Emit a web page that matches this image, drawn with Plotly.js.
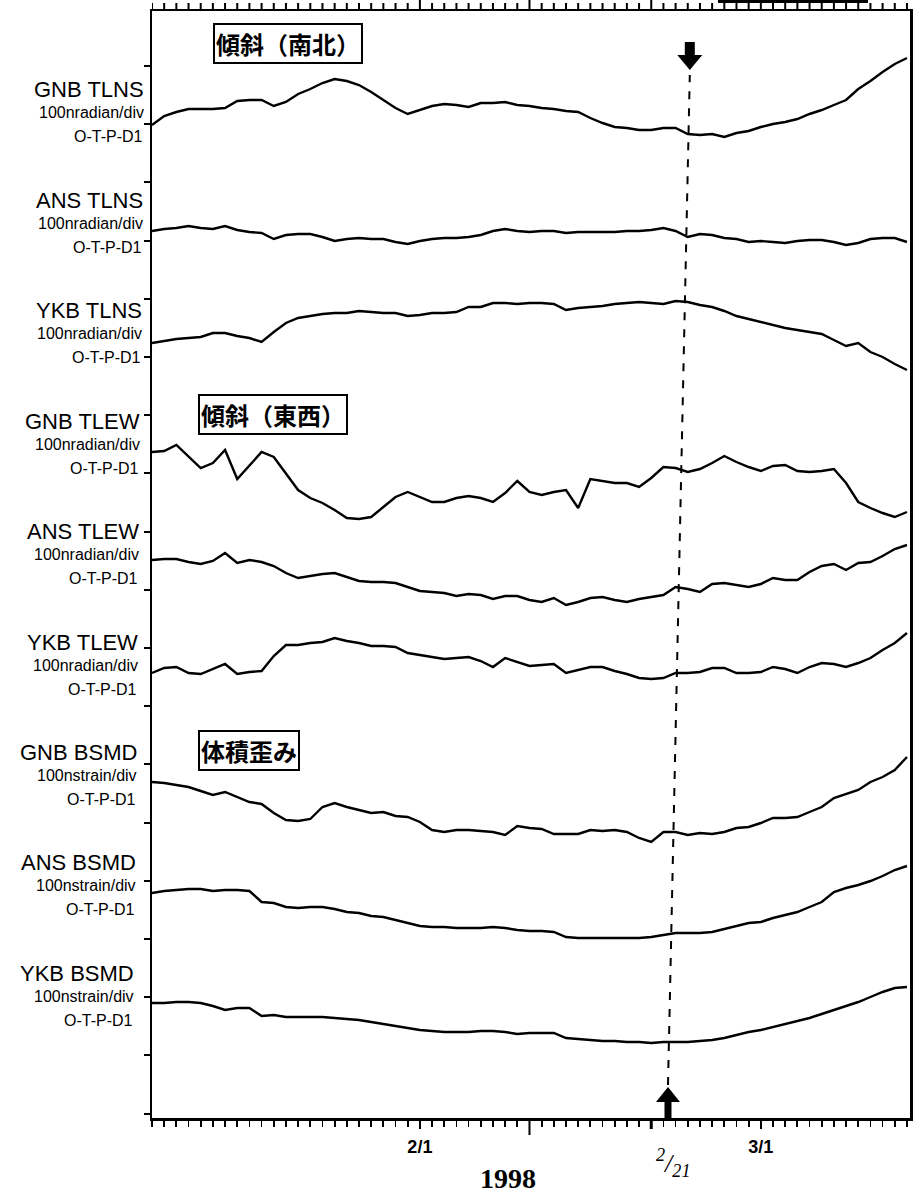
<!DOCTYPE html>
<html>
<head>
<meta charset="utf-8">
<script src="https://cdn.plot.ly/plotly-3.0.1.min.js"></script>
<style>html,body{margin:0;padding:0;background:#fff;}#chart{width:913px;height:1197px;}</style>
</head>
<body>
<div id="chart"></div>
<script>
// ---- data (deviation from each trace's starting level, display units) ----
const dates = [
 '1998-01-10','1998-01-11','1998-01-12','1998-01-13','1998-01-14','1998-01-15','1998-01-16','1998-01-17','1998-01-18','1998-01-19',
 '1998-01-20','1998-01-21','1998-01-22','1998-01-23','1998-01-24','1998-01-25','1998-01-26','1998-01-27','1998-01-28','1998-01-29',
 '1998-01-30','1998-01-31','1998-02-01','1998-02-02','1998-02-03','1998-02-04','1998-02-05','1998-02-06','1998-02-07','1998-02-08',
 '1998-02-09','1998-02-10','1998-02-11','1998-02-12','1998-02-13','1998-02-14','1998-02-15','1998-02-16','1998-02-17','1998-02-18',
 '1998-02-19','1998-02-20','1998-02-21','1998-02-22','1998-02-23','1998-02-24','1998-02-25','1998-02-26','1998-02-27','1998-02-28',
 '1998-03-01','1998-03-02','1998-03-03','1998-03-04','1998-03-05','1998-03-06','1998-03-07','1998-03-08','1998-03-09','1998-03-10',
 '1998-03-11','1998-03-12','1998-03-13'];

const gnbTlns = [-2,7,11,14,14,14,15,22,23,23,17,21,29,34,40,44,42,38,31,23,15,9,13,17,19,18,16,20,20,21,18,17,15,14,12,11,5,0,-4,-5,-7,-7,-5,-5,-11,-12,-11,-14,-10,-8,-4,-1,1,4,9,13,18,23,34,42,51,59,65];
const ansTlns = [2,4,5,7,5,4,7,3,1,0,-6,-2,-1,-1,-4,-8,-6,-5,-6,-6,-9,-11,-8,-6,-5,-5,-4,-2,2,4,2,1,2,2,0,1,1,1,1,2,2,3,5,2,-4,-1,-2,-5,-6,-9,-8,-9,-10,-8,-7,-7,-9,-12,-10,-6,-5,-5,-9];
const ykbTlns = [0,2,4,5,6,10,10,7,5,1,11,20,25,27,29,30,30,32,31,30,30,27,28,30,30,31,36,36,40,40,39,40,40,39,33,35,36,37,39,40,41,40,39,42,41,38,36,32,27,24,21,18,15,13,11,9,3,-3,0,-9,-14,-21,-27];
const gnbTlew = [1,2,8,-4,-15,-10,3,-26,-12,1,-4,-20,-37,-45,-50,-57,-65,-66,-64,-54,-44,-39,-44,-49,-49,-45,-43,-45,-49,-40,-28,-39,-42,-39,-37,-55,-26,-28,-30,-30,-34,-25,-14,-15,-19,-16,-10,-3,-9,-14,-18,-13,-12,-18,-19,-18,-16,-30,-49,-55,-60,-64,-59];
const ansTlew = [3,4,4,1,-1,2,10,0,3,1,-3,-10,-15,-13,-11,-10,-14,-18,-19,-19,-20,-24,-28,-29,-30,-33,-31,-32,-36,-33,-33,-37,-39,-35,-42,-39,-35,-34,-37,-39,-36,-34,-32,-24,-26,-29,-21,-20,-22,-24,-21,-15,-17,-17,-9,-3,-1,-7,0,1,7,14,18];
const ykbTlew = [0,5,6,0,-1,4,9,-1,1,2,17,28,28,30,31,35,32,30,27,27,26,20,18,16,14,15,16,12,6,15,11,7,8,9,0,3,6,6,2,-1,-5,-6,-5,0,0,1,5,5,0,0,1,6,4,0,6,10,9,6,10,15,23,30,40];
const gnbBsmd = [1,0,-2,-4,-8,-12,-9,-14,-19,-21,-30,-37,-38,-36,-24,-20,-24,-27,-30,-29,-33,-34,-39,-47,-49,-47,-47,-48,-49,-52,-43,-45,-46,-51,-51,-51,-47,-48,-47,-49,-55,-59,-49,-49,-52,-50,-51,-49,-45,-44,-40,-35,-35,-34,-29,-24,-15,-11,-7,1,6,13,26];
const ansBsmd = [0,2,3,4,4,2,3,3,2,-9,-10,-14,-15,-14,-14,-16,-19,-20,-23,-24,-27,-30,-33,-34,-34,-35,-35,-35,-34,-35,-37,-38,-38,-39,-44,-45,-45,-45,-45,-45,-45,-44,-42,-40,-40,-40,-39,-36,-33,-30,-29,-25,-22,-19,-14,-9,1,5,8,12,17,23,27];
const ykbBsmd = [0,0,1,1,0,-3,-7,-5,-5,-13,-12,-14,-14,-14,-14,-15,-16,-17,-19,-21,-23,-25,-27,-28,-29,-29,-29,-28,-28,-29,-31,-30,-30,-30,-35,-36,-37,-38,-38,-39,-39,-40,-39,-39,-39,-38,-37,-35,-32,-29,-27,-24,-21,-18,-15,-11,-7,-3,1,6,11,15,16];

const stationNames = ['GNB TLNS','ANS TLNS','YKB TLNS','GNB TLEW','ANS TLEW','YKB TLEW','GNB BSMD','ANS BSMD','YKB BSMD'];
const unitLabels = ['100nradian/div','100nradian/div','100nradian/div','100nradian/div','100nradian/div','100nradian/div','100nstrain/div','100nstrain/div','100nstrain/div'];
const sensorCode = 'O-T-P-D1';
const groupTitles = ['傾斜（南北）','傾斜（東西）','体積歪み'];
const tickDates = ['1998-02-01','1998-03-01'];
const tickTexts = ['2/1','3/1'];
const markDates = ['1998-02-10','1998-02-20'];
const yearLabel = '1998';
const eventStart = '1998-02-21 09:00';
const eventEnd = '1998-02-23 04:00';

// ---- layout helpers (pixel geometry of the page) ----
const W = 913, H = 1197;
const L = 152, R = 910, T = 11, B = 1118;
const PW = R - L, PH = B - T;
const px2x = p => (p - L) / PW;          // page x -> paper x
const py2y = p => (B - p) / PH;          // page y -> paper y

const series = [gnbTlns, ansTlns, ykbTlns, gnbTlew, ansTlew, ykbTlew, gnbBsmd, ansBsmd, ykbBsmd];
const topBase = 995, step = 110;

const traces = series.map((vals, i) => ({
  type: 'scatter', mode: 'lines', x: dates,
  y: vals.map(v => topBase - step * i + v),
  line: {color: '#000', width: 2.4}, hoverinfo: 'skip'
}));

const annotations = [];
stationNames.forEach((name, i) => {
  const yc = 90 + 110.4 * i;
  const edge = 146 - 1.2 * i;
  annotations.push({xref:'paper', yref:'paper', x: px2x(edge), y: py2y(yc), xanchor:'right', yanchor:'middle',
    text: name, showarrow:false, font:{family:'Liberation Sans, Arial, sans-serif', size:22, color:'#000'}});
  annotations.push({xref:'paper', yref:'paper', x: px2x(edge), y: py2y(yc + 23), xanchor:'right', yanchor:'middle',
    text: unitLabels[i], showarrow:false, font:{family:'Liberation Sans, Arial, sans-serif', size:16, color:'#000'}});
  annotations.push({xref:'paper', yref:'paper', x: px2x(edge - 1), y: py2y(yc + 47), xanchor:'right', yanchor:'middle',
    text: sensorCode, showarrow:false, font:{family:'Liberation Sans, Arial, sans-serif', size:16, color:'#000'}});
});
const boxCenters = [[287.5, 43], [272.5, 415], [248.5, 750]];
groupTitles.forEach((t, k) => {
  annotations.push({xref:'paper', yref:'paper', x: px2x(boxCenters[k][0]), y: py2y(boxCenters[k][1]),
    xanchor:'center', yanchor:'middle', text:'<b>' + t + '</b>', showarrow:false,
    font:{family:'Noto Sans CJK JP', size:24, color:'#000'},
    bordercolor:'#000', borderwidth:2, borderpad:1, bgcolor:'#fff'});
});
annotations.push({xref:'paper', yref:'paper', x: px2x(508), y: py2y(1179), xanchor:'center', yanchor:'middle',
  text:'<b>' + yearLabel + '</b>', showarrow:false, font:{family:'Liberation Serif, serif', size:28, color:'#000'}});
annotations.push({xref:'paper', yref:'paper', x: px2x(673), y: py2y(1163), xanchor:'center', yanchor:'middle',
  text:'<sup>2</sup>/<sub>21</sub>', showarrow:false, font:{family:'Liberation Serif, serif', size:26, color:'#000', style:'italic'}});

const shapes = [
  // dashed event line
  {type:'line', xref:'x', yref:'paper', x0: eventStart, y0: py2y(1085), x1: eventEnd, y1: py2y(75),
   line:{color:'#000', width:2, dash:'8px,9px'}},
  // top arrow (pointing down)
  {type:'path', xref:'x', yref:'paper', xsizemode:'pixel', ysizemode:'pixel', xanchor: eventEnd, yanchor: py2y(70),
   path:'M -5,28 L 5,28 L 5,15 L 12.5,15 L 0,0 L -12.5,15 L -5,15 Z', fillcolor:'#000', line:{width:0}},
  // bottom arrow (pointing up)
  {type:'path', xref:'x', yref:'paper', xsizemode:'pixel', ysizemode:'pixel', xanchor: eventStart, yanchor: py2y(1087),
   path:'M 0,0 L 12,-15 L 3.5,-15 L 3.5,-31 L -3.5,-31 L -3.5,-15 L -12,-15 Z', fillcolor:'#000', line:{width:0}},
  // longer tick marks at 2/10 and 2/20
  {type:'line', xref:'x', yref:'paper', x0: markDates[0], x1: markDates[0], y0: py2y(1118), y1: py2y(1135), line:{color:'#000', width:2}},
  {type:'line', xref:'x', yref:'paper', x0: markDates[1], x1: markDates[1], y0: py2y(1120), y1: py2y(1129), line:{color:'#000', width:3}},
  // cut-off box edge at top right
  {type:'rect', xref:'paper', yref:'paper', x0: px2x(718), x1: px2x(868), y0: py2y(3), y1: py2y(-10),
   fillcolor:'#000', line:{width:0}}
];
// daily tick scale along the top frame (same day grid as the bottom axis)
dates.forEach(d => {
  const major = tickDates.indexOf(d) >= 0 || markDates.indexOf(d) >= 0;
  shapes.push({type:'line', xref:'x', yref:'paper', x0: d, x1: d, y0: py2y(T), y1: py2y(T - (major ? 11 : 8)),
    line:{color:'#000', width: 2}});
});

const xRange = ['1998-01-10 00:00','1998-03-13 06:00'];

const layout = {
  width: W, height: H,
  margin: {l: L, r: W - R, t: T, b: H - B, pad: 0},
  paper_bgcolor:'#fff', plot_bgcolor:'#fff', showlegend:false,
  xaxis: {
    type:'date', range: xRange,
    tickmode:'array', tickvals: tickDates, ticktext: tickTexts,
    ticks:'outside', ticklen:8, tickwidth:2, tickcolor:'#000',
    minor: {dtick:86400000, tick0:'1998-01-10', ticks:'outside', ticklen:6, tickwidth:1.8, tickcolor:'#000', showgrid:false},
    showline:true, linewidth:2.5, linecolor:'#000', mirror:true,
    showgrid:false, zeroline:false, ticklabelstandoff:3,
    tickfont:{family:'Liberation Sans, Arial, sans-serif', size:18, color:'#000', weight:'bold'}
  },
  yaxis: {
    range:[0, PH], tickmode:'linear', tick0:62.6, dtick:58.2,
    ticks:'outside', ticklen:6, tickwidth:2, tickcolor:'#000', showticklabels:false,
    showline:true, linewidth:2.5, linecolor:'#000', mirror:true,
    showgrid:false, zeroline:false
  },
  annotations: annotations,
  shapes: shapes
};

Plotly.newPlot('chart', traces, layout, {displayModeBar:false, staticPlot:true});
</script>
</body>
</html>
